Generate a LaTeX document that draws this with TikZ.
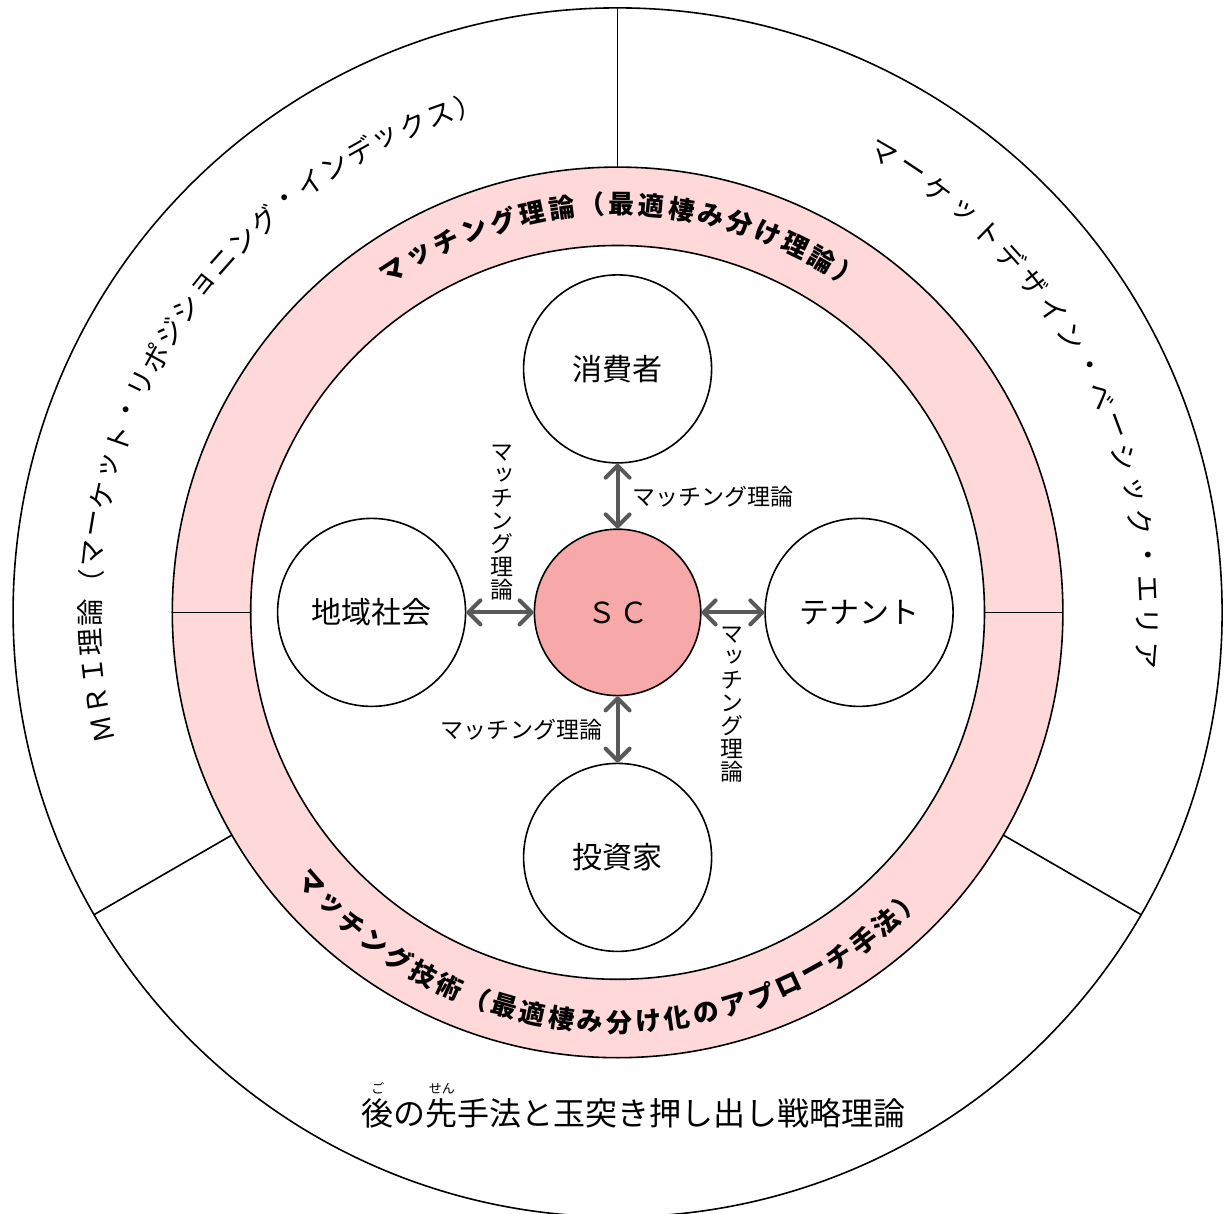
\documentclass[tikz,border=0pt]{standalone}
\usepackage{fontspec}
\usetikzlibrary{arrows.meta}
\newfontfamily\jp{Noto Sans CJK JP}
\newfontfamily\jpv{Noto Sans CJK JP}[RawFeature=+vert]
\definecolor{ringpink}{RGB}{255,217,217}
\definecolor{scpink}{RGB}{247,168,168}
\definecolor{arrgray}{RGB}{89,89,89}
\begin{document}
\begin{tikzpicture}[x=1pt,y=1pt,
  line width=1.6pt,
  actor/.style={circle, draw=black, fill=white, line width=1.6pt, minimum size=188pt, inner sep=0pt, font=\jp\fontsize{30}{30}\selectfont},
  hub/.style={circle, draw=black, fill=scpink, line width=1.6pt, minimum size=166.4pt, inner sep=0pt, font=\jp\fontsize{29}{29}\selectfont},
  arr/.style={draw=arrgray, line width=4pt, {Straight Barb[length=12pt,width=24pt,round]}-{Straight Barb[length=12pt,width=24pt,round]}},
  lbl/.style={inner sep=0pt, font=\jp\fontsize{23}{23}\selectfont},
  vlbl/.style={inner sep=0pt, align=center, font=\jpv\fontsize{23}{23}\selectfont},
  ringch/.style={inner sep=0pt, font=\jp\bfseries\fontsize{26}{26}\selectfont},
  outch/.style={inner sep=0pt, font=\jp\fontsize{27.5}{27.5}\selectfont},
  bottomtxt/.style={inner sep=0pt, font=\jp\fontsize{32}{32}\selectfont},
  rubytxt/.style={inner sep=0pt, font=\jp\fontsize{13}{13}\selectfont},
]
\useasboundingbox (-617.6,-601.6) rectangle (607.4,612.4);
\clip (-617.6,-601.6) rectangle (607.4,612.4);
% outer circle and rings
\draw (0,0) circle (604.5);
\fill[ringpink, even odd rule] (0,0) circle (445.3) (0,0) circle (366.9);
\draw (0,0) circle (445.3);
\draw (0,0) circle (366.9);
\draw (0,445.3) -- (0,604.5);
\draw (210:445.3) -- (210:604.5);
\draw (330:445.3) -- (330:604.5);
\draw (-445.3,0) -- (-366.9,0);
\draw (366.9,0) -- (445.3,0);
% actors
\node[hub] (sc) at (0,0) {Ｓ\kern3ptＣ};
\node[actor] (cons) at (0,243.5) {消費者};
\node[actor] (comm) at (-246,0) {地域社会};
\node[actor] (ten) at (241.5,0) {テナント};
\node[actor] (inv) at (0,-245) {投資家};
% connectors
\draw[arr] (cons) -- (sc);
\draw[arr] (comm) -- (sc);
\draw[arr] (sc) -- (ten);
\draw[arr] (sc) -- (inv);
% connector labels
\node[lbl, anchor=west] (l1) at (14.4,115.4) {マッチング理論};
\node[lbl] (l4) at (-96.1,-117.6) {マッチング理論};
\node[vlbl] (l2) at (-115.6,89.9) {マ\\ッ\\チ\\ン\\グ\\理\\論};
\node[vlbl] (l3) at (114.4,-92.1) {マ\\ッ\\チ\\ン\\グ\\理\\論};
% ring texts
\foreach \c [count=\i from 0] in {マ,ッ,チ,ン,グ,理,論,（,最,適,棲,み,分,け,理,論,）}{
  \pgfmathsetmacro\a{123.2-4.22*\i}
  \pgfmathsetmacro\r{\a-90}
  \node[ringch, rotate=\r] (rt\i) at (\a:408) {\c};
}
\foreach \c [count=\i from 0] in {マ,ッ,チ,ン,グ,技,術,（,最,適,棲,み,分,け,化,の,ア,プ,ロ,ー,チ,手,法,）}{
  \pgfmathsetmacro\a{221.4+4.07*\i}
  \pgfmathsetmacro\r{\a+90}
  \node[ringch, rotate=\r] (rb\i) at (\a:410) {\c};
}
% outer texts
\foreach \c [count=\i from 0] in {Ｍ,Ｒ,Ｉ,理,論,（,マ,ー,ケ,ッ,ト,・,リ,ポ,ジ,シ,ョ,ニ,ン,グ,・,イ,ン,デ,ッ,ク,ス,）}{
  \pgfmathsetmacro\a{192.8-3.2*\i}
  \pgfmathsetmacro\r{\a-90}
  \node[outch, rotate=\r] (ol\i) at (\a:528) {\c};
}
\foreach \c [count=\i from 0] in {マ,ー,ケ,ッ,ト,デ,ザ,イ,ン,・,ベ,ー,シ,ッ,ク,・,エ,リ,ア}{
  \pgfmathsetmacro\a{60-3.59*\i}
  \pgfmathsetmacro\r{\a-90}
  \node[outch, rotate=\r] (or\i) at (\a:530) {\c};
}
\node[bottomtxt] (btm) at (16,-500.6) {後の先手法と玉突き押し出し戦略理論};
\node[rubytxt] (ruby1) at (-239.6,-476.2) {ご};
\node[rubytxt] (ruby2) at (-175.6,-476.2) {せん};
\end{tikzpicture}
\end{document}
